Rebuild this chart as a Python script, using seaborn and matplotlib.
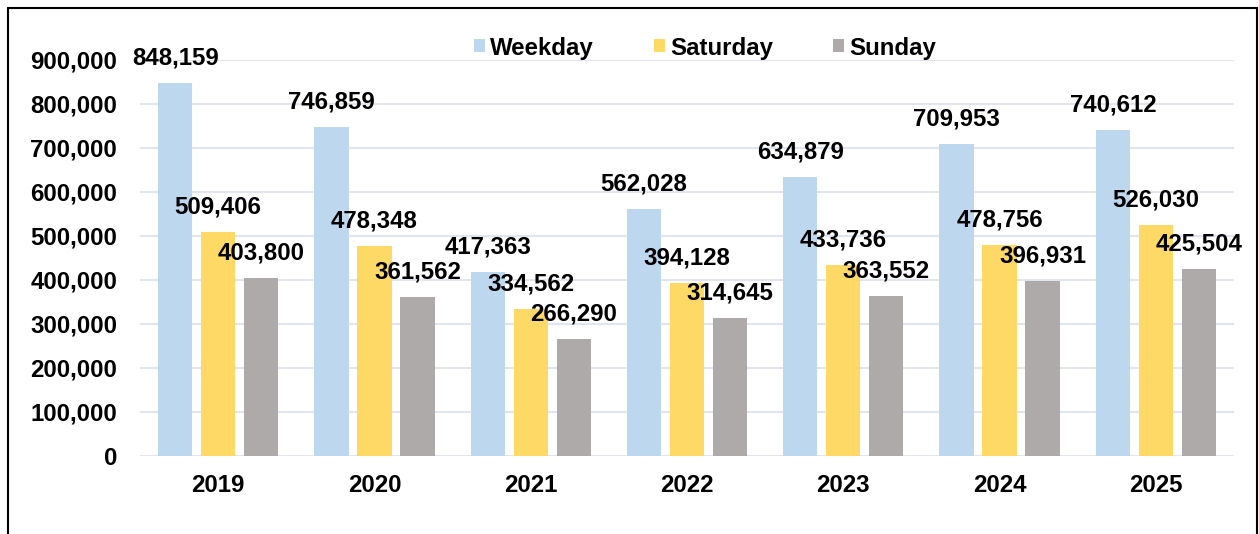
import matplotlib
matplotlib.use("Agg")
import matplotlib.pyplot as plt
from matplotlib.patches import Patch, Rectangle
from matplotlib.ticker import FuncFormatter
import seaborn as sns
import pandas as pd

years = ["2019", "2020", "2021", "2022", "2023", "2024", "2025"]
series = ["Weekday", "Saturday", "Sunday"]
weekday = [848159, 746859, 417363, 562028, 634879, 709953, 740612]
saturday = [509406, 478348, 334562, 394128, 433736, 478756, 526030]
sunday = [403800, 361562, 266290, 314645, 363552, 396931, 425504]
colors = ["#BDD7EE", "#FFD966", "#AEAAAA"]
yticks = [0, 100000, 200000, 300000, 400000, 500000, 600000, 700000, 800000, 900000]

rows = []
for name, vals in zip(series, [weekday, saturday, sunday]):
    for y, v in zip(years, vals):
        rows.append({"Year": y, "Series": name, "Riders": v})
df = pd.DataFrame(rows)

sns.set_style("white")
plt.rcParams["font.family"] = ["Liberation Sans", "DejaVu Sans"]
plt.rcParams["font.weight"] = "bold"
plt.rcParams["text.color"] = "black"
plt.rcParams["xtick.color"] = "black"
plt.rcParams["ytick.color"] = "black"

FS = 17.3
fig = plt.figure(figsize=(12.59, 5.34), dpi=100)
ax = fig.add_axes([140 / 1259, 78 / 534, (1234 - 140) / 1259, (456 - 60) / 534])

sns.barplot(data=df, x="Year", y="Riders", hue="Series", hue_order=series,
            order=years, palette=colors, width=0.825, gap=0.2,
            saturation=1, ax=ax, legend=False, linewidth=0)

ax.set_ylim(0, 900000)
ax.set_xlim(-0.5, len(years) - 0.5)
ax.set_yticks(yticks)
ax.yaxis.set_major_formatter(FuncFormatter(lambda v, p: f"{int(v):,}"))
ax.set_xlabel("")
ax.set_ylabel("")
ax.tick_params(axis="y", length=0, pad=16.5, labelsize=FS, labelcolor="black")
ax.tick_params(axis="x", length=0, pad=13, labelsize=FS, labelcolor="black")
for lab in ax.get_xticklabels() + ax.get_yticklabels():
    lab.set_fontweight("bold")
    lab.set_color("black")

for s in ax.spines.values():
    s.set_visible(False)
ax.grid(axis="y", color="#E1E5EC", linewidth=1.5)
ax.set_axisbelow(True)

for cont in ax.containers:
    for bar in cont:
        h = bar.get_height()
        ax.annotate(f"{int(round(h)):,}", (bar.get_x() + bar.get_width() / 2, h),
                    xytext=(0, 18), textcoords="offset points",
                    ha="center", va="center", fontsize=FS, fontweight="bold",
                    color="black", clip_on=False, annotation_clip=False)

handles = [Patch(facecolor=c, edgecolor="none", label=n) for c, n in zip(colors, series)]
leg = fig.legend(handles=handles, loc="center", bbox_to_anchor=(705 / 1259, 1 - 48 / 534),
                 ncol=3, frameon=False, fontsize=FS, handlelength=0.46, handleheight=0.46,
                 handletextpad=0.2, columnspacing=2.5, borderpad=0)
for t in leg.get_texts():
    t.set_fontweight("bold")
    t.set_color("black")

fig.add_artist(Rectangle((8 / 1259, -0.1), (1257 - 8) / 1259, 1.1 - 8 / 534,
                         transform=fig.transFigure, fill=False, edgecolor="black",
                         linewidth=1.5))

fig.savefig("out.png", dpi=100)
